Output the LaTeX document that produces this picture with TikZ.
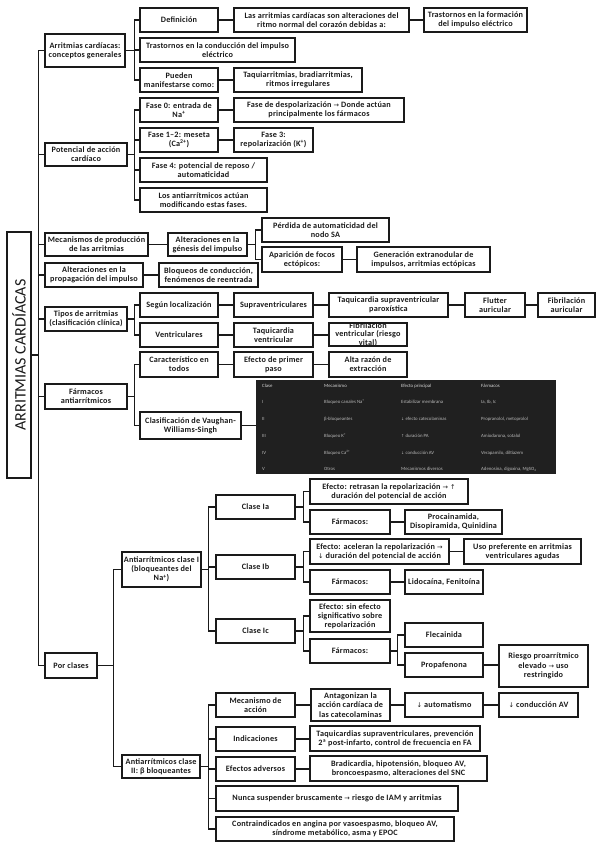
\documentclass[tikz,border=0pt]{standalone}
\usepackage{fontspec}
\usepackage{graphicx}
\setmainfont{Carlito}
\newfontfamily\boxf{Carlito}[LetterSpace=2.5,UprightFont=*-Bold]
\newfontfamily\symf{DejaVu Sans}[Scale=0.8]
\newcommand\ra{{\symf →}}
\newcommand\ua{{\symf ↑}}
\newcommand\da{{\symf ↓}}
\newcommand\sps[1]{\textsuperscript{#1}}
\definecolor{ink}{HTML}{1A1A1A}
\definecolor{tabbg}{HTML}{202020}
\definecolor{tabtx}{HTML}{B8B8B8}
\tikzset{
  box/.style={draw=ink, line width=1.1pt, fill=white, align=center, inner sep=1pt,
    text=ink, font=\boxf\fontsize{8.2}{9.2}\selectfont},
  conn/.style={draw=ink, line width=1.1pt},
  tabt/.style={anchor=west, text=tabtx, inner sep=0pt, font=\fontsize{4.8}{5}\selectfont},
  tabh/.style={tabt, text=white!85!black}
}
\newcommand\bx[6]{%
  \pgfmathsetmacro\mybw{#4-#2}\pgfmathsetmacro\mybh{#5-#3}%
  \pgfmathsetmacro\mycx{(#2+#4)/2}\pgfmathsetmacro\mycy{(#3+#5)/2}%
  \node[box, minimum width=\mybw pt, minimum height=\mybh pt] (#1) at (\mycx,\mycy) {#6};}
\newcommand\tr[3]{\draw[conn] (#1.east) -- ++(#2,0) |- (#3.west);}
\newcommand\lk[2]{\draw[conn] (#1.east) -- (#1.east -| #2.west);}
\begin{document}
\begin{tikzpicture}[x=1pt,y=-1pt]
\useasboundingbox[fill=white] (0,0) rectangle (599,848);
% root
\node[box, minimum width=24pt, minimum height=246pt, inner sep=0pt] (root) at (19,355)
  {\rotatebox{90}{\rmfamily\fontsize{16}{17}\selectfont ARRITMIAS CARDÍACAS}};
% level 1
\bx{n1}{45}{34}{125}{67}{Arritmias cardíacas:\\conceptos generales}
\bx{n2}{45}{143}{127}{166}{Potencial de acción\\cardíaco}
\bx{n3}{45}{233}{148}{256}{Mecanismos de producción\\de las arritmias}
\bx{n4}{45}{263}{143}{287}{Alteraciones en la\\propagación del impulso}
\bx{n5}{45}{307}{127}{331}{Tipos de arritmias\\(clasificación clínica)}
\bx{n6}{45}{384}{127}{409}{Fármacos\\antiarrítmicos}
\bx{n7}{45}{653}{97}{678}{Por clases}
\foreach \c in {n1,n2,n3,n4,n5,n6,n7}{\tr{root}{7}{\c}}
% n1
\bx{a1}{140}{8}{218}{32}{Definición}
\bx{a2}{140}{38}{295}{62}{Trastornos en la conducción del impulso\\eléctrico}
\bx{a3}{140}{68}{218}{92}{Pueden\\manifestarse como:}
\bx{a1b}{234}{8}{409}{32}{Las arritmias cardíacas son alteraciones del\\ritmo normal del corazón debidas a:}
\bx{a1c}{424}{8}{527}{32}{Trastornos en la formación\\del impulso eléctrico}
\bx{a3b}{234}{68}{362}{92}{Taquiarritmias, bradiarritmias,\\ritmos irregulares}
\foreach \c in {a1,a2,a3}{\tr{n1}{9}{\c}}
\lk{a1}{a1b}\lk{a1b}{a1c}\lk{a3}{a3b}
% n2
\bx{b1}{140}{98}{218}{122}{Fase 0: entrada de\\Na\sps{+}}
\bx{b1b}{234}{98}{404}{122}{Fase de despolarización \ra{} Donde actúan\\principalmente los fármacos}
\bx{b2}{140}{128}{218}{152}{Fase 1–2: meseta\\(Ca\sps{2+})}
\bx{b2b}{234}{128}{313}{152}{Fase 3:\\repolarización (K\sps{+})}
\bx{b3}{140}{158}{267}{182}{Fase 4: potencial de reposo /\\automaticidad}
\bx{b4}{140}{188}{267}{212}{Los antiarrítmicos actúan\\modificando estas fases.}
\foreach \c in {b1,b2,b3,b4}{\tr{n2}{7}{\c}}
\lk{b1}{b1b}\lk{b2}{b2b}
% n3
\bx{c1}{168}{233}{247}{256}{Alteraciones en la\\génesis del impulso}
\bx{c2}{262}{218}{389}{242}{Pérdida de automaticidad del\\nodo SA}
\bx{c3}{262}{247}{342}{272}{Aparición de focos\\ectópicos:}
\bx{c3b}{357}{247}{490}{272}{Generación extranodular de\\impulsos, arritmias ectópicas}
\lk{n3}{c1}
\tr{c1}{8}{c2}\tr{c1}{8}{c3}
\lk{c3}{c3b}
% n4
\bx{d1}{159}{263}{258}{287}{Bloqueos de conducción,\\fenómenos de reentrada}
\lk{n4}{d1}
% n5
\bx{e1}{140}{293}{218}{317}{Según localización}
\bx{e1b}{234}{293}{313}{317}{Supraventriculares}
\bx{e1c}{329}{293}{448}{317}{Taquicardia supraventricular\\paroxística}
\bx{e1d}{465}{293}{525}{317}{Flutter\\auricular}
\bx{e1e}{538}{293}{595}{317}{Fibrilación\\auricular}
\bx{e2}{140}{323}{218}{347}{Ventriculares}
\bx{e2b}{234}{323}{313}{347}{Taquicardia\\ventricular}
\bx{e2c}{329}{323}{407}{346}{}
\node[align=center, inner sep=0pt, text=ink, font=\boxf\fontsize{8.2}{8.6}\selectfont] at (e2c) {Fibrilación\\ventricular (riesgo\\vital)};
\tr{n5}{7}{e1}\tr{n5}{7}{e2}
\lk{e1}{e1b}\lk{e1b}{e1c}\lk{e1c}{e1d}\lk{e1d}{e1e}
\lk{e2}{e2b}\lk{e2b}{e2c}
% n6
\bx{f1}{140}{352}{218}{377}{Característico en\\todos}
\bx{f1b}{234}{352}{313}{377}{Efecto de primer\\paso}
\bx{f1c}{329}{352}{407}{377}{Alta razón de\\extracción}
\bx{f2}{140}{412}{241}{439}{Clasificación de Vaughan-\\Williams-Singh}
\tr{n6}{7}{f1}\tr{n6}{7}{f2}
\lk{f1}{f1b}\lk{f1b}{f1c}
% table
\node[fill=tabbg, minimum width=300pt, minimum height=94pt, inner sep=0pt] (tab) at (406,427) {};
\lk{f2}{tab}
\node[tabh] at (262,386) {Clase};
\node[tabh] at (324,386) {Mecanismo};
\node[tabh] at (401,386) {Efecto principal};
\node[tabh] at (481,386) {Fármacos};
\node[tabt] at (262,402) {I};
\node[tabt] at (324,402) {Bloqueo canales Na\sps{+}};
\node[tabt] at (401,402) {Estabilizar membrana};
\node[tabt] at (481,402) {Ia, Ib, Ic};
\node[tabt] at (262,419) {II};
\node[tabt] at (324,419) {β-bloqueantes};
\node[tabt] at (401,419) {\da{} efecto catecolaminas};
\node[tabt] at (481,419) {Propranolol, metoprolol};
\node[tabt] at (262,436) {III};
\node[tabt] at (324,436) {Bloqueo K\sps{+}};
\node[tabt] at (401,436) {\ua{} duración PA};
\node[tabt] at (481,436) {Amiodarona, sotalol};
\node[tabt] at (262,453) {IV};
\node[tabt] at (324,453) {Bloqueo Ca\sps{2+}};
\node[tabt] at (401,453) {\da{} conducción AV};
\node[tabt] at (481,453) {Verapamilo, diltiazem};
\node[tabt] at (262,469) {V};
\node[tabt] at (324,469) {Otros};
\node[tabt] at (401,469) {Mecanismos diversos};
\node[tabt] at (481,469) {Adenosina, digoxina, MgSO\textsubscript{4}};
% n7
\bx{g1}{122}{552}{201}{587}{Antiarrítmicos clase I\\(bloqueantes del\\Na\sps{+})}
\bx{g2}{122}{755}{200}{778}{Antiarrítmicos clase\\II: β bloqueantes}
\tr{n7}{16}{g1}\tr{n7}{16}{g2}
% class I
\bx{h1}{216}{495}{295}{519}{Clase Ia}
\bx{h2}{216}{555}{295}{579}{Clase Ib}
\bx{h3}{216}{619}{295}{643}{Clase Ic}
\foreach \c in {h1,h2,h3}{\tr{g1}{7}{\c}}
\bx{i1}{310}{479}{468}{504}{Efecto: retrasan la repolarización \ra{} \ua\\duración del potencial de acción}
\bx{i2}{310}{510}{390}{534}{Fármacos:}
\bx{i2b}{405}{510}{502}{534}{Procainamida,\\Disopiramida, Quinidina}
\tr{h1}{8}{i1}\tr{h1}{8}{i2}
\lk{i2}{i2b}
\bx{j1}{310}{539}{449}{564}{Efecto: aceleran la repolarización \ra\\\da{} duración del potencial de acción}
\bx{j1b}{464}{539}{581}{564}{Uso preferente en arritmias\\ventriculares agudas}
\bx{j2}{310}{570}{390}{594}{Fármacos:}
\bx{j2b}{405}{570}{483}{594}{Lidocaína, Fenitoína}
\tr{h2}{8}{j1}\tr{h2}{8}{j2}
\lk{j1}{j1b}\lk{j2}{j2b}
\bx{k1}{310}{600}{390}{632}{Efecto: sin efecto\\significativo sobre\\repolarización}
\bx{k2}{310}{639}{390}{663}{Fármacos:}
\bx{k3}{405}{623}{483}{647}{Flecainida}
\bx{k4}{405}{653}{483}{677}{Propafenona}
\bx{k4b}{499}{645}{588}{687}{Riesgo proarrítmico\\elevado \ra{} uso\\restringido}
\tr{h3}{8}{k1}\tr{h3}{8}{k2}
\tr{k2}{7}{k3}\tr{k2}{7}{k4}
\lk{k4}{k4b}
% class II
\bx{l1}{216}{693}{295}{717}{Mecanismo de\\acción}
\bx{l1b}{311}{689}{390}{721}{Antagonizan la\\acción cardíaca de\\las catecolaminas}
\bx{l1c}{405}{693}{483}{717}{\da{} automatismo}
\bx{l1d}{499}{693}{578}{717}{\da{} conducción AV}
\bx{l2}{216}{727}{295}{751}{Indicaciones}
\bx{l2b}{310}{726}{480}{751}{Taquicardias supraventriculares, prevención\\2ª post-infarto, control de frecuencia en FA}
\bx{l3}{216}{757}{295}{781}{Efectos adversos}
\bx{l3b}{310}{756}{487}{781}{Bradicardia, hipotensión, bloqueo AV,\\broncoespasmo, alteraciones del SNC}
\bx{l4}{216}{786}{458}{811}{Nunca suspender bruscamente \ra{} riesgo de IAM y arritmias}
\bx{l5}{216}{817}{454}{841}{Contraindicados en angina por vasoespasmo, bloqueo AV,\\síndrome metabólico, asma y EPOC}
\foreach \c in {l1,l2,l3,l4,l5}{\tr{g2}{8}{\c}}
\lk{l1}{l1b}\lk{l1b}{l1c}\lk{l1c}{l1d}
\lk{l2}{l2b}\lk{l3}{l3b}
\end{tikzpicture}
\end{document}
